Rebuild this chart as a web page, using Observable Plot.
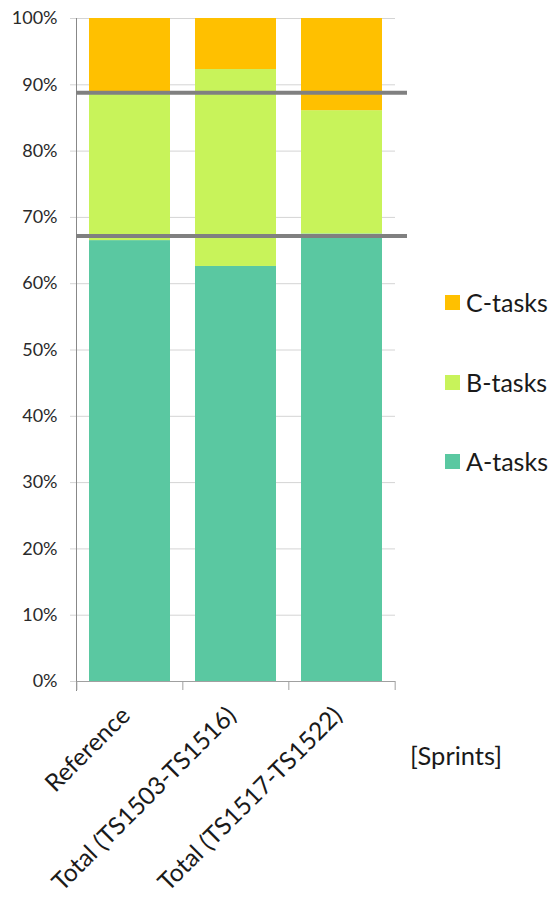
<!DOCTYPE html>
<html><head><meta charset="utf-8">
<script src="https://cdn.jsdelivr.net/npm/d3@7"></script>
<script src="https://cdn.jsdelivr.net/npm/@observablehq/plot@0.6"></script>
<style>
body{margin:0;background:#fff;font-family:Lato,"Open Sans",sans-serif;}
#wrap{position:relative;width:551px;height:898px;overflow:hidden;}
.leg{position:absolute;left:445px;display:flex;align-items:center;font-size:25px;color:#1a1a1a;line-height:1;}
.leg span.sw{display:inline-block;width:15px;height:15px;margin-right:6px;}
#xlab{position:absolute;left:410px;top:743px;font-size:25.5px;color:#1a1a1a;line-height:1;}
</style></head><body><div id="wrap"></div>
<script>
const categories = ["Reference", "Total (TS1503-TS1516)", "Total (TS1517-TS1522)"];
const series = ["A-tasks", "B-tasks", "C-tasks"];
const aTasks = [66.5, 62.6, 67.5];
const bTasks = [22.3, 29.7, 18.6];
const cTasks = [11.2, 7.7, 13.9];
const referenceLines = [88.8, 67.2];
const yTicks = [0, 10, 20, 30, 40, 50, 60, 70, 80, 90, 100];
const legendOrder = ["C-tasks", "B-tasks", "A-tasks"];
const colors = ["#5AC8A1", "#C8F35A", "#FFC000"];
const axisLabel = "[Sprints]";

const values = [aTasks, bTasks, cTasks];
const data = [];
series.forEach((s, si) => categories.forEach((c, ci) => data.push({category: c, series: s, value: values[si][ci]})));

const W = 551, H = 898, mL = 76, mR = 156, mT = 18, mB = 217;
const step = (W - mL - mR) / categories.length;

const chart = Plot.plot({
  width: W, height: H,
  marginLeft: mL, marginRight: mR, marginTop: mT, marginBottom: mB,
  style: {fontFamily: "Lato, 'Open Sans', sans-serif", background: "transparent"},
  x: {domain: categories, paddingInner: 0.24, paddingOuter: 0.12, label: null},
  y: {domain: [0, 100], label: null},
  color: {domain: series, range: colors},
  marks: [
    Plot.gridY(yTicks, {stroke: "#d4d4d4", strokeOpacity: 1}),
    Plot.axisY({ticks: yTicks, tickSize: 6, text: null, stroke: "#d4d4d4"}),
    Plot.axisY({ticks: yTicks, tickSize: 0, tickPadding: 19, tickFormat: d => d + "%", fontSize: 18, fill: "#2a2a2a"}),
    Plot.barY(data, {x: "category", y: "value", fill: "series", order: series}),
    Plot.ruleY([0], {stroke: "#a0a0a0"}),
    Plot.frame({anchor: "left", stroke: "#888", insetBottom: -9}),
    Plot.axisX({tickSize: 9, text: null, stroke: "#a0a0a0", dx: -step / 2}),
    Plot.axisX({ticks: [categories[categories.length - 1]], tickSize: 9, text: null, stroke: "#a0a0a0", dx: step / 2}),
    Plot.ruleY(referenceLines, {stroke: "#808080", strokeWidth: 4, insetRight: -12}),
    Plot.axisX({tickSize: 0, tickPadding: 30, dx: -4, tickRotate: -45, fontSize: 24.5, fill: "#1a1a1a"})
  ]
});
const wrap = document.getElementById("wrap");
wrap.appendChild(chart);

const legendY = {"C-tasks": 303, "B-tasks": 383, "A-tasks": 462};
legendOrder.forEach(s => {
  const d = document.createElement("div");
  d.className = "leg";
  d.style.top = (legendY[s] - 13) + "px";
  d.innerHTML = `<span class="sw" style="background:${colors[series.indexOf(s)]}"></span>${s}`;
  wrap.appendChild(d);
});
const xl = document.createElement("div");
xl.id = "xlab"; xl.textContent = axisLabel;
wrap.appendChild(xl);
</script>
</body></html>
